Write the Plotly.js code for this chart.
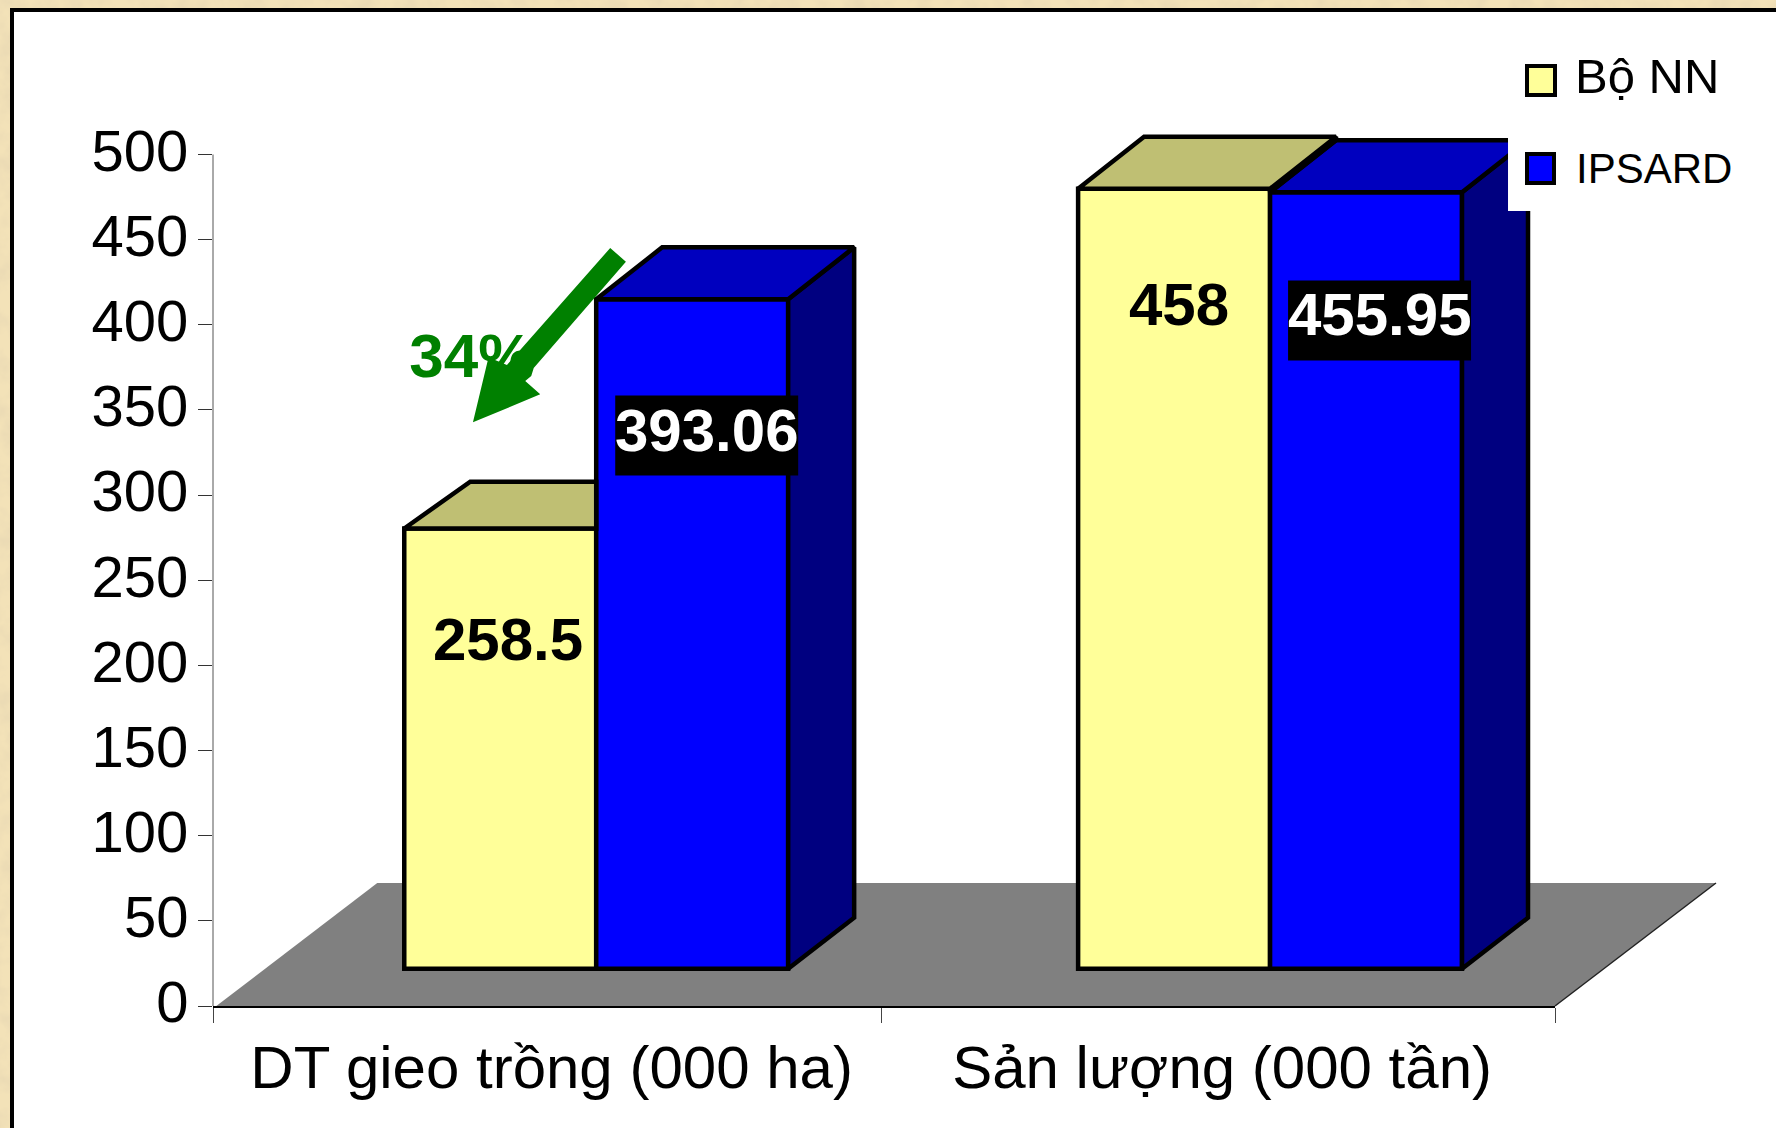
<!DOCTYPE html>
<html>
<head>
<meta charset="utf-8">
<script src="https://cdn.plot.ly/plotly-3.0.1.min.js"></script>
<style>
html,body{margin:0;padding:0;width:1776px;height:1128px;overflow:hidden;background-color:#f3e2b8;
background-image:url("data:image/svg+xml;utf8,<svg xmlns='http://www.w3.org/2000/svg' width='1776' height='1128'><filter id='n'><feTurbulence type='fractalNoise' baseFrequency='0.045' numOctaves='4' seed='7'/><feColorMatrix values='0 0 0 0 0.80  0 0 0 0 0.68  0 0 0 0 0.45  1.6 0 0 0 -0.62'/></filter><rect width='1776' height='1128' filter='url(%23n)'/></svg>");}
#panel{position:absolute;left:10px;top:8px;width:1800px;height:1160px;border:4.5px solid #000;background:#fff;box-sizing:content-box}
#chart{position:absolute;left:0;top:0;width:1776px;height:1128px}
</style>
</head>
<body>
<div id="panel"></div>
<div id="chart"></div>
<script>
// Categories and series
const categories = ["DT gieo trồng (000 ha)", "Sản lượng (000 tần)"];
const seriesNames = ["Bộ NN", "IPSARD"];
const boNN = [258.5, 458];
const ipsard = [393.06, 455.95];
const yTicks = [0, 50, 100, 150, 200, 250, 300, 350, 400, 450, 500];

// Plot frame in page pixels; top500 is where the value 500 lands, plotTop leaves headroom for the box tops
const frame = {left: 212.7, right: 1555, top500: 154.5, plotTop: 100, bottom: 1006};
const categoryStep = 674, firstCategoryPx = 548;
const xRange = [(frame.left - firstCategoryPx) / categoryStep, (frame.right - firstCategoryPx) / categoryStep];
const yPerPx = 500 / (frame.bottom - frame.top500);
const yMax = (frame.bottom - frame.plotTop) * yPerPx;
const px = v => (v - frame.left) / (frame.right - frame.left);
const py = v => (frame.bottom - v) / (frame.bottom - frame.plotTop);
const dataX = v => (v - firstCategoryPx) / categoryStep;
const dataY = v => (frame.bottom - v) * yPerPx;

// Pseudo-3D box geometry, expressed in axis units
const barBase = 21.9;
const barWidth = 192 / categoryStep;
const yellowOffset = -144 / categoryStep;
const blueOffset = 48 / categoryStep;
const depthX = 66 / categoryStep;
const depthBottom = 51 * yPerPx;
const depthYellow = [46.7 * yPerPx, 52 * yPerPx];
const depthBlue = [52 * yPerPx, 52 * yPerPx];
const edgeWidth = 4.5;

const colors = {
  yellow: "#FFFF99", yellowTop: "#BFBF73", yellowSide: "#808040",
  blue: "#0000FF", blueTop: "#0000BF", blueSide: "#000080",
  floor: "#808080", green: "#008000"
};

function face(xs, ys, fill) {
  return {type: "scatter", mode: "lines", x: [...xs, xs[0]], y: [...ys, ys[0]], fill: "toself",
    fillcolor: fill, line: {color: "#000", width: edgeWidth}, cliponaxis: false, hoverinfo: "skip", showlegend: false};
}

const fronts = [
  {type: "bar", name: seriesNames[0], x: [0, 1], y: boNN, base: barBase, width: barWidth, offset: yellowOffset,
   marker: {color: colors.yellow, line: {color: "#000", width: edgeWidth}}, hoverinfo: "skip"},
  {type: "bar", name: seriesNames[1], x: [0, 1], y: ipsard, base: barBase, width: barWidth, offset: blueOffset,
   marker: {color: colors.blue, line: {color: "#000", width: edgeWidth}}, hoverinfo: "skip"}
];

const faces = [];
categories.forEach((_, i) => {
  const bx0 = i + blueOffset, bx1 = bx0 + barWidth;
  const bTop = ipsard[i] + barBase, d = depthBlue[i];
  faces.push(face([bx1, bx1 + depthX, bx1 + depthX, bx1],
                  [bTop, bTop + d, barBase + depthBottom, barBase], colors.blueSide));
  faces.push(face([bx0, bx0 + depthX, bx1 + depthX, bx1], [bTop, bTop + d, bTop + d, bTop], colors.blueTop));
});
categories.forEach((_, i) => {
  const yx0 = i + yellowOffset, yx1 = yx0 + barWidth;
  const yTop = boNN[i] + barBase, bTop = ipsard[i] + barBase, d = depthYellow[i];
  if (boNN[i] > ipsard[i]) {
    // the yellow box stands taller, so its top and a sliver of its side show
    faces.push(face([yx1, yx1 + depthX, yx1 + depthX, yx1], [yTop, yTop + d, bTop + d, bTop], colors.yellowSide));
    faces.push(face([yx0, yx0 + depthX, yx1 + depthX, yx1], [yTop, yTop + d, yTop + d, yTop], colors.yellowTop));
  } else {
    // the blue box in front hides everything right of its left edge
    faces.push(face([yx0, yx0 + depthX, yx1, yx1], [yTop, yTop + d, yTop + d, yTop], colors.yellowTop));
  }
});

const percentLabel = {type: "scatter", mode: "text", x: [dataX(409)], y: [dataY(361)], text: ["34%"],
  textposition: "middle right",
  textfont: {family: "Liberation Sans, Arial, sans-serif", size: 62, color: colors.green, weight: 700},
  cliponaxis: false, hoverinfo: "skip", showlegend: false};

// Value labels: horizontal place relative to the category, height on the value axis
const valueFont = {family: "Liberation Sans, Arial, sans-serif", size: 60, weight: 700};
const yellowLabelX = [-0.0593, -0.0635], yellowLabelY = [215, 412];
const blueLabelX = [0.2352, 0.2337], blueLabelY = [338.2, 405.8];
const labelBoxWidth = 183 / categoryStep, labelBoxHeight = 80 * yPerPx, labelBoxDrop = 5.5 * yPerPx;
const valueAnnotations = [];
const labelBoxes = [];
categories.forEach((_, i) => {
  valueAnnotations.push({xref: "x", yref: "y", x: i + yellowLabelX[i], y: yellowLabelY[i], text: "<b>" + boNN[i] + "</b>",
    showarrow: false, font: {...valueFont, color: "#000"}});
  valueAnnotations.push({xref: "x", yref: "y", x: i + blueLabelX[i], y: blueLabelY[i], text: "<b>" + ipsard[i] + "</b>",
    showarrow: false, font: {...valueFont, color: "#fff"}});
  const cy = blueLabelY[i] - labelBoxDrop;
  labelBoxes.push({type: "rect", xref: "x", yref: "y", layer: "above", fillcolor: "#000", line: {width: 0},
    x0: i + blueLabelX[i] - labelBoxWidth / 2, x1: i + blueLabelX[i] + labelBoxWidth / 2,
    y0: cy - labelBoxHeight / 2, y1: cy + labelBoxHeight / 2});
});

// Legend pieces sit in a white block that masks the corner of the last box
const legendAnnotations = [
  {xref: "paper", yref: "paper", x: px(1573), y: py(76), xanchor: "left", yanchor: "middle", text: seriesNames[0],
   showarrow: false, font: {family: "Liberation Sans, Arial, sans-serif", size: 49, color: "#000"}},
  {xref: "paper", yref: "paper", x: px(1574), y: py(168), xanchor: "left", yanchor: "middle", text: seriesNames[1],
   showarrow: false, font: {family: "Liberation Sans, Arial, sans-serif", size: 42, color: "#000"}}
];

const paperRect = (x0, y0, x1, y1, fill, lineW) => ({type: "rect", xref: "paper", yref: "paper", layer: "above",
  x0: px(x0), x1: px(x1), y0: py(y0), y1: py(y1), fillcolor: fill, line: {color: "#000", width: lineW}});
const paperPath = pts => "M" + pts.map(p => px(p[0]) + "," + py(p[1])).join("L") + "Z";

const floorOutline = [[216, 1006], [377, 883], [1716, 883], [1555, 1006]];
const arrowOutline = [[610, 248], [506.7, 365], [488.3, 357.3], [472.7, 422.3], [540, 394.3], [525, 381],
                      [531, 376], [533.5, 368], [625.7, 261.7]];

const shapes = [
  {type: "path", xref: "paper", yref: "paper", layer: "below", path: paperPath(floorOutline),
   fillcolor: colors.floor, line: {width: 0}},
  {type: "line", xref: "paper", yref: "paper", layer: "below", x0: px(1555), y0: py(1006), x1: px(1716), y1: py(883),
   line: {color: "#222", width: 1.5}},
  {type: "line", xref: "paper", yref: "paper", layer: "below", x0: 0, y0: 0, x1: 0, y1: py(frame.top500),
   line: {color: "#555", width: 1}},
  {type: "path", xref: "paper", yref: "paper", layer: "above", path: paperPath(arrowOutline),
   fillcolor: colors.green, line: {width: 0}},
  ...labelBoxes,
  paperRect(1508, 14, 1776, 211, "#fff", 0),
  paperRect(1527, 66, 1555, 95, colors.yellow, 4),
  paperRect(1527, 154, 1554, 183, colors.blue, 4)
];

const yTickFont = {family: "Liberation Sans, Arial, sans-serif", size: 58, color: "#000"};
const xTickFont = {family: "Liberation Sans, Arial, sans-serif", size: 60, color: "#000"};

const layout = {
  width: 1776, height: 1128, paper_bgcolor: "rgba(0,0,0,0)", plot_bgcolor: "rgba(0,0,0,0)",
  margin: {l: frame.left, r: 1776 - frame.right, t: frame.plotTop, b: 1128 - frame.bottom, pad: 0},
  barmode: "overlay", showlegend: false, hovermode: false,
  xaxis: {range: xRange, tickmode: "array", tickvals: [0.005, 1], ticktext: categories, ticks: "", tickfont: xTickFont,
    showgrid: false, zeroline: false, showline: true, linecolor: "#000", linewidth: 1.5, ticklabelstandoff: 8,
    minor: {tickmode: "array", tickvals: [xRange[0], 0.4953, xRange[1]], ticks: "outside", ticklen: 15,
            tickcolor: "#444", tickwidth: 1, showgrid: false}},
  yaxis: {range: [0, yMax], tickmode: "array", tickvals: yTicks, ticks: "outside", ticklen: 14, tickcolor: "#333",
    tickwidth: 1, tickfont: yTickFont, showgrid: false, zeroline: false, showline: false,
    ticklabelstandoff: -2, ticklabelshift: -4},
  shapes,
  annotations: [...valueAnnotations, ...legendAnnotations]
};

Plotly.newPlot("chart", [...fronts, ...faces, percentLabel], layout, {displayModeBar: false, staticPlot: true});
</script>
</body>
</html>
